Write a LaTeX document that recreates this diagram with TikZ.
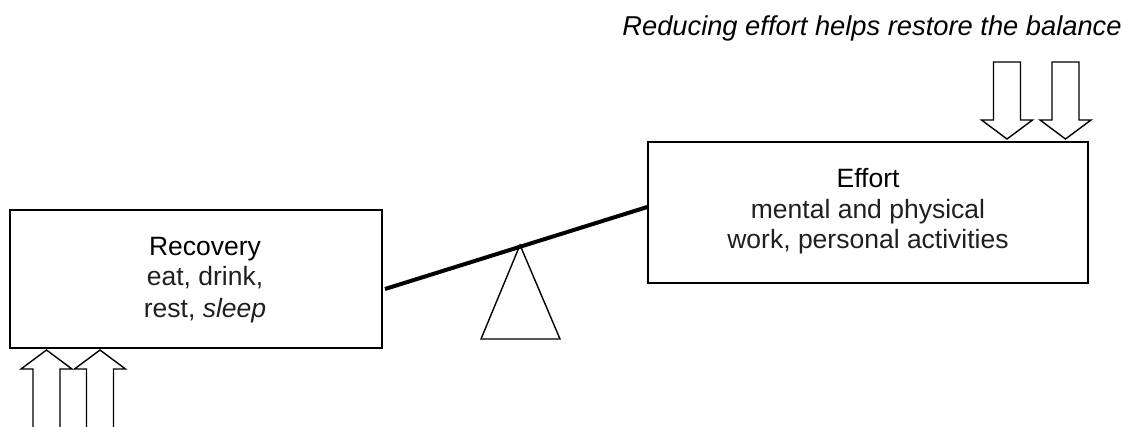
\documentclass[tikz,border=0pt]{standalone}
\usepackage{fontspec}
\setmainfont{Liberation Sans}
\begin{document}
\begin{tikzpicture}[x=1pt,y=-1pt,
  box/.style={draw=black,line width=1.5pt,minimum width=#1,inner sep=0pt},
  txt/.style={anchor=base,inner sep=0pt,font=\fontsize{26.5}{31}\selectfont,text=black!88},
  head/.style={anchor=base,inner sep=0pt,font=\fontsize{26.5}{31}\selectfont,text=black},
  blockarrow/.style={draw=black,fill=white,line width=1.4pt,line join=miter},
  lever/.style={draw=black,line width=4pt}]
\useasboundingbox (0,0) rectangle (1143,426);

% caption
\node[head,font=\fontsize{27.3}{31}\selectfont\itshape] (cap) at (872,35) {Reducing effort helps restore the balance};

% the two pans of the balance
\node[box=440pt,minimum height=141pt] (effort) at (868,212.5) {};
\node[box=372pt,minimum height=138pt] (recovery) at (196,279) {};

\node[head] (effT) at (868,187) {Effort};
\node[txt] (eff1) at (868,218) {mental and physical};
\node[txt] (eff2) at (868,248) {work, personal activities};

\node[head] (recT) at (205,255) {Recovery};
\node[txt] (rec1) at (205,285) {eat, drink,};
\node[txt] (rec2) at (205,317) {rest, \textit{sleep}};

% fulcrum and beam
\coordinate (apex) at (520,245);
\draw[line width=1.4pt,line join=miter] (apex) -- (481,339) -- (560,339) -- cycle;
\coordinate (beamL) at (385,289);
\coordinate (beamR) at (effort.west |- 0,207);
\draw[lever] (beamL) -- (beamR);

% downward block arrows on the effort side
\foreach \cx in {1007,1065.5}{
  \draw[blockarrow] (\cx-13.5,62) -- (\cx+13.5,62) -- (\cx+13.5,120) -- (\cx+25.5,120)
    -- (\cx,139) -- (\cx-25.5,120) -- (\cx-13.5,120) -- cycle;
}

% upward block arrows under the recovery side
\foreach \cx in {46.5,100}{
  \draw[blockarrow] (\cx-13.5,430) -- (\cx-13.5,369) -- (\cx-25.5,369) -- (\cx,350)
    -- (\cx+25.5,369) -- (\cx+13.5,369) -- (\cx+13.5,430);
}
\end{tikzpicture}
\end{document}
